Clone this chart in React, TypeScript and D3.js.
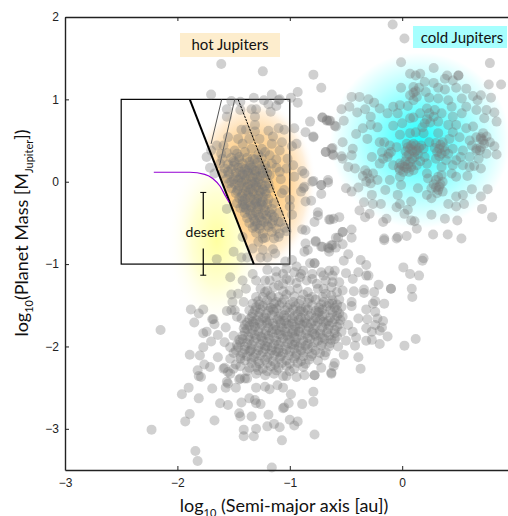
import React, { useEffect, useRef } from "react";
import * as d3 from "d3";

type Pt = [number, number];

// log10(a), log10(m)
const coldJupiters: Pt[] = [
  [-0.085,1.91],[0.02,1.74],[-0.01,1.45],[0.78,1.44],[0.28,1.38],[-0.79,1.3],[-0.72,1.14],[0.88,1.18],[0.77,1.18],[0.07,1.31],[0.12,1.29],[0.16,1.31],
  [0.4,1.29],[0.38,1.25],[0.5,1.29],[0.5,1.29],[0.45,1.23],[-0.01,1.14],[0.1,1.15],[0.2,1.21],[0.28,1.2],[0.32,1.14],[0.38,1.12],[0.48,1.14],[0.57,1.13],
  [0.21,1.09],[0.07,1.05],[0.13,1.03],[0.1,0.99],[0.12,1.1],[0.1,1.08],[0.32,1.01],[0.41,0.99],[0.53,1.01],[0.63,1.04],[0.7,1.05],[0.79,1.02],[0.67,0.99],
  [-0.45,1.03],[-0.38,1.03],[-0.3,1.0],[-0.25,0.96],[-0.47,0.91],[-0.54,0.88],[-0.4,0.84],[-0.33,0.88],[-0.28,0.79],[-0.2,0.89],[-0.13,0.83],[-0.08,0.91],
  [-0.02,0.93],[0.05,0.92],[-0.04,0.83],[0.07,0.77],[0.16,0.83],[0.22,0.89],[0.29,0.87],[0.35,0.83],[0.44,0.91],[0.45,0.79],[0.53,0.83],[0.57,0.91],[0.66,0.87],
  [0.75,0.87],[0.82,0.84],[0.73,0.77],[0.84,0.73],[-0.71,0.78],[-0.65,0.74],[-0.67,0.75],[-0.52,0.74],[-0.59,0.67],[-0.35,0.65],[-0.28,0.69],[-0.41,0.58],
  [-0.31,0.52],[-0.22,0.66],[-0.08,0.68],[0,0.71],[0.07,0.59],[0.28,0.79],[0.24,0.83],[0.32,0.73],[0.19,0.59],[0.32,0.59],[0.41,0.69],[0.48,0.69],[0.57,0.65],
  [0.63,0.67],[0.72,0.59],[0.75,0.55],[0.66,0.54],[0.51,0.54],[0.42,0.52],[-0.79,0.55],[-0.53,0.48],[-0.44,0.4],[-0.62,0.41],[-0.68,0.36],[-0.62,0.33],
  [-0.54,0.31],[-0.53,0.28],[-0.45,0.32],[-0.27,0.3],[-0.2,0.48],[-0.16,0.48],[-0.11,0.44],[-0.13,0.3],[-0.17,0.28],[-0.1,0.36],[-0.02,0.57],[0.04,0.46],
  [0.1,0.46],[0.07,0.4],[0.13,0.38],[0.19,0.4],[0.11,0.3],[0.2,0.3],[0.33,0.4],[0.35,0.34],[0.36,0.48],[0.24,0.48],[0.45,0.4],[0.54,0.38],[0.6,0.5],[0.66,0.38],
  [0.7,0.54],[0.73,0.46],[0.82,0.43],[0.84,0.33],[0.75,0.34],[0.69,0.38],[0.48,0.26],[0.39,0.26],[0.3,0.28],[0.22,0.22],[0.07,0.24],[0,0.2],[0.04,0.16],[0.13,0.2],
  [-0.02,0.14],[0.35,0.18],[0.45,0.2],[0.54,0.2],[0.64,0.19],[0.7,0.16],[0.6,0.18],[-0.48,0.18],[-0.42,0.16],[-0.33,0.14],[-0.31,0.1],[-0.26,0.1],[-0.22,0.02],
  [-0.32,0],[-0.29,0.04],[-0.11,0.02],[-0.15,-0.1],[-0.01,-0.04],[-0.02,0.06],[0.14,-0.08],[0.23,0.04],[0.32,0.06],[0.32,-0.1],[0.36,0],[0.48,0.06],[0.62,-0.09],
  [0.76,-0.09],[0.7,-0.18],[0.54,-0.16],[0.48,-0.18],[0.41,-0.27],[0.55,-0.27],[0.48,-0.3],[0.26,-0.2],[0.26,-0.4],[0.38,-0.45],[0.49,-0.47],[0.71,-0.33],[0.8,-0.43],
  [0.22,-0.16],[-0.04,-0.16],[-0.02,-0.27],[-0.05,-0.31],[0.08,-0.24],[0.05,-0.34],[0.02,-0.39],[0.08,-0.47],[0.11,-0.48],[0.13,-0.57],[0.05,0.42],[0.09,0.38],
  [0.12,0.44],[0.06,0.33],[0.14,0.33],[0.17,0.44],[0.03,0.37],[-0.02,0.22],[0.03,0.25],[0.08,0.18],[0.01,0.12],[0.06,0.12],[0.34,0.45],[0.38,0.37],[0.31,0.36],[0.3,0.47],
  [0.3,0.02],[0.34,-0.03],[0.3,-0.07],[0.36,-0.12],[0.31,-0.14],[0.22,0.76],[0.25,0.72],[0.2,0.71],[-0.12,0.34],[-0.18,0.36],[0.62,0.44],[0.66,0.4],[0.7,0.42],[0.72,0.5],[0.7,0.52],
  [0.275,-0.64],[0.405,-0.64],[0.527,-0.69],[0.04,-0.66],[-0.05,-0.69],[-0.04,-0.67],[-0.16,-0.71],
  [0.08,0.44],[0.11,0.36],[0.04,0.31],[0.15,0.41],[0.09,0.28],[0.16,0.25],[0.02,0.18],[0.05,0.21],[-0.03,0.17],[0.1,0.14],[0.33,0.31],[0.37,0.42],[0.41,0.34],[0.29,0.41],
  [0.33,-0.06],[0.28,-0.03],[0.35,0.08],[0.1,0.78],[0.18,0.66],[0.6,0.3],[0.68,0.28],[0.78,0.48],[-0.28,-0.02],[-0.35,0.07],[-0.2,0.22],[-0.08,0.2],[0.22,0.1],[0.44,0.1],
  [0.52,0.3],[0.58,0.07],[0.15,1.14],[0.24,1.02],[0.45,0.6],[0.12,0.6],[-0.05,0.42],[0.26,-0.08],
];

const hotFringe: Pt[] = [
  [-1.61,1.43],[-1.24,1.34],[-1.7,1.06],[-1.52,0.98],[-1.56,0.88],[-1.56,0.79],[-1.44,0.97],[-1.44,0.87],[-1.32,1.02],[-1.34,0.88],[-1.3,0.88],[-1.31,0.79],[-1.23,0.99],
  [-1.19,0.94],[-1.16,1.06],[-1.09,1.0],[-1.1,0.99],[-1.12,0.92],[-1.17,0.85],[-0.99,1.02],[-0.93,1.09],[-0.93,0.96],[-0.82,0.73],[-0.71,0.78],[-0.67,0.74],[-0.64,0.74],[-0.6,0.68],
  [-0.86,0.6],[-0.79,0.54],[-0.96,0.65],[-1.05,0.63],[-1.1,0.65],[-0.68,0.36],[-0.63,0.4],[-0.61,0.32],[-0.94,0.46],[-0.98,0.43],[-1.07,0.48],[-1.19,0.62],[-1.31,0.69],[-1.31,0.61],
  [-1.39,0.63],[-1.43,0.63],[-1.46,0.52],[-1.55,0.54],[-1.36,0.52],[-1.27,0.52],[-1.15,0.55],[-1.42,0.46],[-1.49,0.38],[-1.59,0.44],[-1.65,0.44],[-1.7,0.38],[-1.74,0.3],
  [-1.71,0.17],[-1.67,0.1],[-1.61,0.34],[-1.34,0.4],[-1.25,0.4],[-1.16,0.46],[-1.09,0.38],[-1.18,0.32],[-1.12,0.27],[-1.02,0.28],[-0.97,0.2],[-1.03,0.16],[-1.09,0.12],
  [-0.96,0.06],[-0.89,0.13],[-0.8,0],[-0.72,-0.04],[-0.66,0.02],[-0.87,-0.06],[-0.87,0.1],[-0.79,0.01],[-0.9,-0.12],[-0.88,-0.08],[-0.72,-0.15],[-0.81,-0.23],[-0.86,-0.24],
  [-0.75,-0.37],[-0.75,-0.41],[-0.64,-0.46],[-0.78,-0.49],[-0.98,-0.4],[-0.89,-0.58],[-0.86,-0.59],[-1.1,-0.67],[-0.86,-0.75],[-0.77,-0.72],[-0.84,-0.83],[-0.87,-0.85],
  [-0.72,-0.79],[-0.65,-0.81],[-0.63,-0.77],[-1.15,-0.82],[-1.13,-0.87],[-1.24,-0.83],[-1.28,-0.73],[-1.24,-0.69],[-1.33,-0.81],[-1.26,-0.92],[-1.2,-0.92],[-0.98,-0.95],[-1.04,-0.97],
  [-1.5,-0.85],[-1.65,-0.94],[-1.43,-0.92],[-1.38,-0.92],[-1.56,-0.33],[-1.42,-0.67],[-1.08,-0.49],[-1.05,-0.1],[-1.0,-0.22],[-1.03,-0.6],[-1.0,-0.3],
];

const hotCore: Pt[] = [
  [-1.56,0.35],[-1.47,0.34],[-1.4,0.36],[-1.28,0.33],[-1.22,0.36],[-1.6,0.28],[-1.52,0.29],[-1.45,0.27],[-1.38,0.29],[-1.31,0.27],[-1.25,0.29],[-1.62,0.22],[-1.55,0.21],[-1.49,0.23],
  [-1.42,0.22],[-1.35,0.2],[-1.29,0.23],[-1.22,0.21],[-1.16,0.22],[-1.58,0.16],[-1.52,0.15],[-1.46,0.17],[-1.4,0.15],[-1.34,0.17],[-1.27,0.15],[-1.21,0.16],[-1.12,0.17],[-1.6,0.1],
  [-1.54,0.09],[-1.48,0.11],[-1.42,0.09],[-1.37,0.11],[-1.31,0.09],[-1.24,0.1],[-1.18,0.08],[-1.56,0.04],[-1.5,0.03],[-1.44,0.05],[-1.39,0.03],[-1.33,0.05],[-1.27,0.03],[-1.21,0.04],
  [-1.08,0.03],[-1.54,-0.02],[-1.49,-0.03],[-1.43,-0.01],[-1.37,-0.03],[-1.31,-0.01],[-1.25,-0.03],[-1.19,-0.02],[-1.52,-0.08],[-1.46,-0.09],[-1.41,-0.07],[-1.35,-0.09],[-1.3,-0.07],
  [-1.24,-0.09],[-1.18,-0.08],[-1.48,-0.14],[-1.42,-0.15],[-1.37,-0.13],[-1.32,-0.15],[-1.26,-0.13],[-1.21,-0.15],[-1.07,-0.14],[-1.45,-0.2],[-1.4,-0.21],[-1.35,-0.19],[-1.29,-0.21],
  [-1.24,-0.19],[-1.19,-0.21],[-1.47,-0.26],[-1.42,-0.27],[-1.37,-0.25],[-1.31,-0.27],[-1.26,-0.25],[-1.2,-0.27],[-1.14,-0.26],[-1.44,-0.32],[-1.39,-0.33],[-1.34,-0.31],[-1.28,-0.33],
  [-1.23,-0.31],[-1.16,-0.33],[-1.4,-0.38],[-1.35,-0.39],[-1.3,-0.37],[-1.24,-0.39],[-1.18,-0.37],[-1.1,-0.38],[-1.38,-0.44],[-1.32,-0.45],[-1.27,-0.43],[-1.2,-0.45],[-1.14,-0.43],
  [-1.36,-0.5],[-1.29,-0.51],[-1.23,-0.49],[-1.16,-0.51],[-1.1,-0.49],[-1.33,-0.56],[-1.27,-0.57],[-1.19,-0.55],[-1.12,-0.57],[-1.04,-0.56],[-1.3,-0.62],[-1.24,-0.63],[-1.16,-0.61],
  [-1.09,-0.63],[-1.22,-0.68],[-1.14,-0.69],[-1.44,0.12],[-1.34,0.0],[-1.28,-0.17],[-1.36,-0.35],[-1.25,-0.28],[-1.3,-0.05],[-1.46,0.02],[-1.38,0.13],[-1.32,-0.22],[-1.4,-0.28],
  [-1.5,0.19],[-1.43,0.17],[-1.36,0.24],[-1.3,0.13],[-1.26,0.07],[-1.48,0.06],[-1.41,0.01],[-1.35,0.06],[-1.28,-0.01],[-1.22,-0.05],[-1.45,-0.05],[-1.39,-0.11],[-1.33,-0.12],
  [-1.27,-0.11],[-1.22,-0.12],[-1.43,-0.18],[-1.37,-0.17],[-1.3,-0.25],[-1.24,-0.24],[-1.41,-0.31],[-1.35,-0.29],[-1.29,-0.3],[-1.22,-0.35],[-1.33,-0.41],[-1.28,-0.4],[-1.21,-0.41],
  [-1.16,-0.4],[-1.31,-0.48],[-1.25,-0.47],[-1.2,-0.53],[-1.26,-0.53],[-1.31,-0.54],[-1.15,-0.47],[-1.45,0.3],[-1.33,0.28],[-1.27,0.2],[-1.5,0.25],[-1.4,0.08],[-1.32,0.14],
  [-1.55,0.12],[-1.52,0.0],[-1.47,-0.11],[-1.42,-0.23],[-1.24,0.14],[-1.2,0.1],[-1.36,0.17],[-1.38,-0.06],[-1.33,-0.03],[-1.29,0.06],
];

const lowMassFringe: Pt[] = [
  [-1.88,-1.55],[-1.77,-1.55],[-1.81,-1.6],[-1.85,-1.71],[-2.15,-1.8],[-1.69,-1.67],[-1.67,-1.73],[-1.57,-1.77],[-1.77,-1.84],[-1.74,-1.82],[-1.64,-1.86],[-1.7,-1.94],[-1.77,-2.01],
  [-1.89,-2.1],[-1.8,-2.11],[-1.64,-2.13],[-1.76,-2.22],[-1.71,-2.25],[-1.82,-2.29],[-1.81,-2.36],[-1.79,-2.37],[-1.69,-2.51],[-1.9,-2.5],[-1.96,-2.58],[-1.81,-2.63],[-1.62,-2.69],
  [-1.55,-2.71],[-1.89,-2.82],[-1.93,-2.91],[-1.67,-2.9],[-2.23,-3.01],[-1.84,-3.27],[-1.82,-3.39],[-1.16,-3.47],[-1.43,-2.68],[-1.36,-2.63],[-1.31,-2.65],[-1.3,-2.69],[-1.26,-2.7],
  [-1.45,-2.81],[-1.44,-2.85],[-1.34,-2.85],[-1.41,-3.01],[-1.41,-3.09],[-1.32,-3.09],[-1.3,-3.0],[-1.19,-2.83],[-1.2,-2.97],[-1.14,-2.94],[-1.09,-2.98],[-1.07,-3.14],[-1.06,-2.75],
  [-1.05,-2.74],[-1.01,-2.69],[-0.99,-2.58],[-0.89,-2.7],[-0.79,-2.55],[-0.79,-2.67],[-1.0,-2.89],[-0.93,-2.91],[-0.96,-2.96],[-0.78,-3.07],[-1.57,-2.5],[-1.55,-2.45],[-1.48,-2.5],
  [-1.45,-2.4],[-1.38,-2.39],[-1.3,-2.5],[-1.22,-2.49],[-1.18,-2.52],[-1.11,-2.47],[-1.06,-2.5],[-0.94,-2.37],[-0.87,-2.35],[-0.78,-2.35],[-0.63,-2.33],[-1.03,-2.36],[-1.53,-2.33],[-1.58,-2.26],
  [-1.53,-1.16],[-1.42,-1.2],[-1.33,-1.12],[-1.3,-1.2],[-1.22,-1.2],[-1.12,-1.16],[-1.1,-1.26],[-1.39,-1.3],[-1.46,-1.36],[-1.52,-1.37],[-1.51,-1.46],[-1.41,-1.46],[-1.3,-1.4],[-1.22,-1.34],
  [-1.16,-1.4],[-1.0,-1.32],[-1.06,-1.24],[-0.91,-1.16],[-0.94,-1.03],[-0.82,-0.99],[-0.78,-0.99],[-1.52,-1.56],[-1.56,-1.57],[-1.49,-1.56],[-1.47,-1.64],[-1.68,-1.67],[-1.43,-1.66],[-1.4,-1.74],
  [-1.5,-1.87],[-1.58,-1.95],[-1.53,-2.01],[-1.46,-2.01],[-1.53,-2.15],[-1.44,-2.15],[-1.35,-2.05],[-1.59,-2.27],[-1.55,-2.31],[-1.44,-2.39],[-1.56,-2.43],[-1.4,-2.39],
];

const midScatter: Pt[] = [
  [-0.45,-0.58],[-0.53,-0.61],[-0.45,-0.68],[-0.57,-0.68],[-0.53,-0.76],[-0.62,-0.77],[-0.66,-0.8],[-0.65,-0.85],[-0.71,-0.79],[-0.59,-0.8],[-0.77,-0.73],[-0.48,-0.88],[-0.52,-0.96],[-0.37,-0.95],
  [-0.32,-1.01],[-0.39,-1.1],[-0.32,-1.14],[-0.3,-1.14],[-0.5,-1.11],[-0.44,-1.18],[-0.78,-0.99],[0.19,-0.93],[0.18,-0.96],[0.01,-1.04],[0.07,-1.12],[0.15,-1.14],[-0.21,-1.25],[-0.1,-1.3],[-0.1,-1.3],
  [0.085,-1.3],[0.09,-1.4],[-0.25,-1.34],[-0.34,-1.31],[-0.34,-1.35],[-0.43,-1.33],[-0.24,-1.45],[-0.16,-1.48],[-0.26,-1.48],[-0.32,-1.55],[-0.24,-1.58],[-0.22,-1.66],[-0.17,-1.69],[-0.18,-1.77],
  [-0.31,-1.67],[-0.32,-1.78],[-0.27,-1.82],[-0.24,-1.74],[-0.2,-1.81],[-0.13,-1.88],[-0.27,-1.92],[-0.32,-1.93],[-0.2,-1.97],[0.12,-1.91],[0.02,-1.99],[-0.42,-1.99],[-0.41,-1.89],[-0.5,-1.93],
  [-0.57,-2.0],[-0.6,-1.91],[-0.52,-2.1],[-0.39,-2.13],[-0.37,-2.27],[-0.6,-2.2],[-0.61,-2.24],[-0.63,-2.32],[-0.72,-2.26],[-0.78,-2.35],[-0.68,-2.07],[-0.69,-2.11],[-0.45,-1.51],[-0.53,-1.64],
  [-0.39,-1.66],[-0.44,-1.82],[-0.48,-1.74],[-0.62,-1.14],[-0.65,-1.08],[-0.6,-1.08],[-0.7,-1.14],[-0.63,-1.28],[-0.53,-1.32],[-0.45,-1.46],[-0.62,-1.48],[-0.56,-1.22],[-0.5,-0.08],[-0.45,-0.12],
  [-0.39,-0.07],[-0.66,-0.01],[-0.72,-0.04],[-0.27,-0.16],[-0.34,-0.25],[-0.26,-0.27],[-0.19,-0.27],[-0.38,-0.35],[-0.29,-0.39],[-0.33,-0.43],[-0.14,-0.45],[-0.17,-0.49],[-0.56,-0.43],[-0.65,-0.46],
  [-0.61,-0.45],[-0.53,-0.61],[-0.59,-0.68],[-0.16,-0.69],
];

const lowMassCore: Pt[] = [
  [-1.2,-1.07],[-1.12,-1.09],[-1.03,-1.06],[-0.96,-1.1],[-0.88,-1.08],[-0.8,-1.12],[-0.72,-1.1],[-1.18,-1.2],[-1.03,-1.18],[-0.94,-1.23],[-0.85,-1.2],[-0.76,-1.24],[-0.68,-1.2],
  [-1.26,-1.3],[-1.14,-1.28],[-1.06,-1.33],[-0.93,-1.3],[-0.84,-1.34],[-0.75,-1.3],[-0.68,-1.36],[-0.58,-1.34],[-1.28,-1.45],[-1.2,-1.44],[-1.12,-1.46],[-1.05,-1.43],[-0.97,-1.46],[-0.9,-1.44],
  [-0.84,-1.47],[-0.77,-1.43],[-0.7,-1.46],[-0.62,-1.44],[-0.56,-1.43],[-1.3,-1.52],[-1.24,-1.51],[-1.17,-1.53],[-1.09,-1.5],[-1.02,-1.53],[-0.95,-1.51],[-0.86,-1.53],[-0.8,-1.5],[-0.74,-1.53],
  [-0.67,-1.51],[-0.6,-1.53],[-0.54,-1.52],[-1.33,-1.6],[-1.27,-1.59],[-1.21,-1.61],[-1.14,-1.58],[-1.08,-1.61],[-1.0,-1.59],[-0.93,-1.61],[-0.88,-1.58],[-0.81,-1.61],[-0.75,-1.59],[-0.69,-1.61],
  [-0.62,-1.59],[-0.56,-1.6],[-1.36,-1.67],[-1.3,-1.68],[-1.24,-1.66],[-1.18,-1.69],[-1.11,-1.67],[-1.05,-1.69],[-0.98,-1.66],[-0.92,-1.68],[-0.86,-1.66],[-0.79,-1.69],[-0.73,-1.67],[-0.66,-1.69],
  [-0.6,-1.67],[-0.55,-1.68],[-1.36,-1.75],[-1.31,-1.76],[-1.25,-1.74],[-1.19,-1.77],[-1.13,-1.75],[-1.07,-1.77],[-1.01,-1.74],[-0.95,-1.76],[-0.89,-1.74],[-0.83,-1.77],[-0.77,-1.75],[-0.71,-1.77],
  [-0.65,-1.75],[-0.58,-1.76],[-1.4,-1.82],[-1.34,-1.84],[-1.28,-1.82],[-1.22,-1.85],[-1.16,-1.83],[-1.1,-1.85],[-1.04,-1.82],[-0.98,-1.84],[-0.92,-1.82],[-0.86,-1.85],[-0.8,-1.83],[-0.73,-1.85],
  [-0.67,-1.83],[-0.6,-1.84],[-0.54,-1.82],[-1.42,-1.91],[-1.36,-1.92],[-1.3,-1.9],[-1.24,-1.93],[-1.18,-1.91],[-1.12,-1.93],[-1.06,-1.9],[-1.0,-1.92],[-0.94,-1.9],[-0.88,-1.93],[-0.82,-1.91],
  [-0.75,-1.93],[-0.69,-1.91],[-0.63,-1.92],[-1.47,-1.98],[-1.4,-2.0],[-1.34,-1.98],[-1.28,-2.01],[-1.22,-1.99],[-1.16,-2.01],[-1.1,-1.98],[-1.04,-2.0],[-0.98,-1.98],[-0.92,-2.01],[-0.86,-1.99],
  [-0.8,-2.01],[-0.72,-1.99],[-0.65,-2.0],[-1.5,-2.08],[-1.42,-2.08],[-1.36,-2.06],[-1.3,-2.09],[-1.24,-2.07],[-1.18,-2.09],[-1.12,-2.06],[-1.06,-2.08],[-1.0,-2.06],[-0.94,-2.09],[-0.88,-2.07],[-0.8,-2.09],
  [-0.73,-2.08],[-1.4,-2.17],[-1.34,-2.15],[-1.28,-2.18],[-1.22,-2.16],[-1.15,-2.18],[-1.09,-2.15],[-1.03,-2.17],[-0.96,-2.15],[-0.9,-2.18],[-0.83,-2.16],[-0.75,-2.17],[-1.36,-2.26],[-1.3,-2.25],
  [-1.24,-2.27],[-1.17,-2.24],[-1.1,-2.26],[-1.03,-2.24],[-0.96,-2.27],[-0.88,-2.25],[-1.3,-2.33],[-1.22,-2.35],[-1.14,-2.33],[-1.06,-2.36],[-1.15,-1.55],[-1.05,-1.62],[-0.98,-1.72],[-1.12,-1.8],
  [-1.26,-1.88],[-1.02,-1.88],[-0.85,-1.72],[-0.9,-1.55],[-1.2,-1.95],[-1.1,-2.03],[-0.95,-1.95],[-1.32,-1.72],[-0.78,-1.85],[-0.7,-1.7],[-0.74,-1.58],[-1.08,-1.72],[-1.2,-1.72],[-0.95,-1.82],
  [-1.24,-1.4],[-1.17,-1.38],[-1.1,-1.4],[-1.03,-1.37],[-0.96,-1.39],[-0.88,-1.37],[-0.8,-1.4],[-0.71,-1.4],[-0.63,-1.38],[-1.27,-1.49],[-1.2,-1.5],[-1.14,-1.48],[-1.07,-1.47],[-1.0,-1.49],
  [-0.92,-1.48],[-0.83,-1.42],[-0.72,-1.49],[-0.65,-1.48],[-0.58,-1.49],[-1.31,-1.56],[-1.26,-1.55],[-1.19,-1.57],[-1.12,-1.54],[-1.04,-1.56],[-0.97,-1.55],[-0.91,-1.57],[-0.84,-1.55],[-0.77,-1.57],
  [-0.71,-1.55],[-0.64,-1.56],[-0.58,-1.56],[-1.34,-1.64],[-1.28,-1.63],[-1.22,-1.65],[-1.16,-1.62],[-1.1,-1.64],[-1.03,-1.65],[-0.96,-1.63],[-0.9,-1.65],[-0.83,-1.63],[-0.77,-1.65],[-0.71,-1.63],
  [-0.64,-1.65],[-0.58,-1.63],[-1.38,-1.71],[-1.33,-1.7],[-1.27,-1.71],[-1.21,-1.69],[-1.15,-1.72],[-1.09,-1.69],[-1.03,-1.72],[-0.97,-1.7],[-0.91,-1.72],[-0.87,-1.7],[-0.81,-1.72],[-0.75,-1.7],
  [-0.68,-1.72],[-0.62,-1.71],[-0.56,-1.73],[-1.38,-1.79],[-1.33,-1.8],[-1.27,-1.78],[-1.21,-1.81],[-1.15,-1.79],[-1.09,-1.81],[-1.03,-1.78],[-0.97,-1.8],[-0.91,-1.78],[-0.85,-1.81],[-0.79,-1.79],
  [-0.73,-1.81],[-0.66,-1.79],[-0.6,-1.8],[-1.42,-1.87],[-1.37,-1.88],[-1.31,-1.86],[-1.25,-1.89],[-1.19,-1.87],[-1.14,-1.89],[-1.08,-1.86],[-1.02,-1.86],[-0.96,-1.88],[-0.9,-1.86],[-0.84,-1.89],
  [-0.77,-1.87],[-0.71,-1.89],[-0.65,-1.87],[-0.58,-1.88],[-1.44,-1.95],[-1.38,-1.96],[-1.32,-1.94],[-1.26,-1.97],[-1.2,-2.0],[-1.14,-1.97],[-1.08,-1.95],[-1.02,-1.96],[-0.96,-1.98],[-0.9,-1.96],
  [-0.84,-1.97],[-0.78,-1.95],[-0.71,-1.96],[-0.64,-1.96],[-1.48,-2.05],[-1.4,-2.04],[-1.34,-2.03],[-1.28,-2.05],[-1.22,-2.03],[-1.16,-2.05],[-1.1,-2.07],[-1.03,-2.04],[-0.96,-2.03],[-0.9,-2.05],
  [-0.84,-2.03],[-0.77,-2.05],[-1.44,-2.12],[-1.38,-2.12],[-1.32,-2.13],[-1.26,-2.11],[-1.2,-2.13],[-1.14,-2.11],[-1.08,-2.12],[-1.01,-2.11],[-0.95,-2.12],[-0.88,-2.12],[-0.81,-2.12],[-1.34,-2.2],
  [-1.27,-2.21],[-1.2,-2.2],[-1.13,-2.22],[-1.07,-2.2],[-1.0,-2.21],[-0.93,-2.2],[-0.86,-2.21],[-1.28,-2.29],[-1.2,-2.3],[-1.12,-2.29],[-1.0,-2.3],[-1.44,-2.24],[-1.38,-2.3],[-1.48,-2.22],[-1.5,-2.27],
  [-1.06,-1.12],[-1.0,-1.2],[-0.9,-1.12],[-0.8,-1.18],[-0.7,-1.3],[-0.62,-1.22],[-1.2,-1.32],[-1.33,-1.48],[-1.36,-1.56],[-1.41,-1.78],[-1.45,-1.92],
];

const planetGroups = [coldJupiters, hotFringe, hotCore, lowMassFringe, midScatter, lowMassCore];

const xTicks = [-3, -2, -1, 0];
const yTicks = [-3, -2, -1, 0, 1, 2];

// the lines drawn over the scatter, in data units
const boxX = [-2.5, -1];
const boxY = [1, -1];
const rocheLine: Pt[] = [[-1.89, 1], [-1.32, -1]];
const thinLineA: Pt[] = [[-1.606, 1], [-1.7, 0.46]];
const thinLineB: Pt[] = [[-1.49, 1], [-1.624, 0.2]];
const dashedLine: Pt[] = [[-1.46, 1], [-1, -0.61]];
const purpleCurve: Pt[] = [[-2.21, 0.115], [-1.89, 0.115], [-1.757, 0.09], [-1.686, 0.04], [-1.62, -0.055], [-1.57, -0.18], [-1.54, -0.25]];
const desertBars: Pt[][] = [[[-1.77, -0.13], [-1.77, -0.455]], [[-1.77, -0.81], [-1.77, -1.135]]];

const W = 508;
const H = 516;
const x = d3.scaleLinear().domain([-3, 1]).range([65, 514.6]);
const y = d3.scaleLinear().domain([2, -3.5]).range([17, 470]);
const line = d3.line<Pt>().x((d) => x(d[0])).y((d) => y(d[1]));
const smooth = d3.line<Pt>().x((d) => x(d[0])).y((d) => y(d[1])).curve(d3.curveMonotoneX);

export default function App() {
  const axes = useRef<SVGGElement>(null);

  useEffect(() => {
    const g = d3.select(axes.current);
    g.selectAll("*").remove();
    const bottom = g.append("g").attr("transform", `translate(0,${y(-3.5)})`)
      .call(d3.axisBottom(x).tickValues(xTicks).tickSizeInner(-4).tickSizeOuter(0).tickPadding(8).tickFormat(d3.format("d")));
    const top = g.append("g").attr("transform", `translate(0,${y(2)})`)
      .call(d3.axisTop(x).tickValues(xTicks).tickSizeInner(-4).tickSizeOuter(0).tickFormat(() => ""));
    const left = g.append("g").attr("transform", `translate(${x(-3)},0)`)
      .call(d3.axisLeft(y).tickValues(yTicks).tickSizeInner(-4).tickSizeOuter(0).tickPadding(6).tickFormat(d3.format("d")));
    [bottom, top, left].forEach((a) => {
      a.selectAll("path").attr("stroke", "#222").attr("stroke-width", 1.4);
      a.selectAll("line").attr("stroke", "#222");
      a.selectAll("text").attr("fill", "#222").attr("font-size", 12).attr("font-family", "Liberation Sans, Arial, sans-serif");
    });
  }, []);

  const roche = (edge: number) => {
    // x of the thick line at a given y, for the clip shapes
    const [[x0, y0], [x1, y1]] = rocheLine;
    return x0 + ((edge - y0) * (x1 - x0)) / (y1 - y0);
  };

  const yellowClip: Pt[] = [
    [-3, purpleCurve[0][1]],
    ...purpleCurve,
    [roche(-1.8), -1.8],
    [-3, -1.8],
  ];
  const orangeClip: Pt[] = [
    [roche(1.2), 1.2],
    [0, 1.2],
    [0, -1.8],
    [roche(-1.8), -1.8],
  ];

  return (
    <svg width={W} height={H} style={{ position: "absolute", left: 0, top: 0 }}>
      <defs>
        <radialGradient id="cold">
          <stop offset="0%" stopColor="#20ffff" />
          <stop offset="35%" stopColor="#70ffff" />
          <stop offset="70%" stopColor="#c0ffff" />
          <stop offset="100%" stopColor="#ffffff" />
        </radialGradient>
        <radialGradient id="hot">
          <stop offset="0%" stopColor="#ffc468" />
          <stop offset="60%" stopColor="#ffd8a0" />
          <stop offset="85%" stopColor="#fff0dc" />
          <stop offset="100%" stopColor="#ffffff" stopOpacity={0} />
        </radialGradient>
        <radialGradient id="desertGlow">
          <stop offset="0%" stopColor="#ffffa0" />
          <stop offset="50%" stopColor="#ffffd4" />
          <stop offset="100%" stopColor="#ffffff" stopOpacity={0} />
        </radialGradient>
        <clipPath id="yellowClip"><path d={line(yellowClip) + "Z"} /></clipPath>
        <clipPath id="orangeClip"><path d={line(orangeClip) + "Z"} /></clipPath>
      </defs>

      <ellipse cx={x(0.16)} cy={y(0.5)} rx={90} ry={88} fill="url(#cold)" />
      <g clipPath="url(#yellowClip)">
        <ellipse cx={x(-1.65)} cy={y(-0.7)} rx={50} ry={92} fill="url(#desertGlow)" />
      </g>
      <g clipPath="url(#orangeClip)">
        <ellipse cx={x(-1.33)} cy={y(-0.05)} rx={64} ry={88} fill="url(#hot)" />
      </g>

      <rect x={180} y={33} width={100} height={24} fill="#fdedcd" />
      <text x={230} y={50} textAnchor="middle" fontFamily="Lato, sans-serif" fontSize={15} fill="#111">hot Jupiters</text>
      <rect x={413} y={26} width={94} height={22} fill="#a6fffe" />
      <text x={462} y={43} textAnchor="middle" fontFamily="Lato, sans-serif" fontSize={15} fill="#111">cold Jupiters</text>

      <rect x={x(boxX[0])} y={y(boxY[0])} width={x(boxX[1]) - x(boxX[0])} height={y(boxY[1]) - y(boxY[0])} fill="none" stroke="#000" strokeWidth={1.2} />
      <path d={line(thinLineA)!} fill="none" stroke="#555" strokeWidth={1} />
      <path d={line(thinLineB)!} fill="none" stroke="#555" strokeWidth={1} />

      <g>
        {planetGroups.flat().map((d, i) => (
          <circle key={i} cx={x(d[0])} cy={y(d[1])} r={5} fill="#777777" fillOpacity={0.35} />
        ))}
      </g>

      <path d={line(dashedLine)!} fill="none" stroke="#000" strokeWidth={1} strokeDasharray="2.5 1" />
      <path d={line(rocheLine)!} fill="none" stroke="#000" strokeWidth={2} />
      <path d={smooth(purpleCurve)!} fill="none" stroke="#9400d3" strokeWidth={1.2} />
      {desertBars.map((b, i) => (
        <g key={i}>
          <path d={line(b)!} fill="none" stroke="#000" strokeWidth={1.2} />
          <path d={`M${x(b[0][0]) - 3},${y(i === 0 ? b[0][1] : b[1][1])}h6`} fill="none" stroke="#000" strokeWidth={1} />
        </g>
      ))}
      <text x={205} y={237} textAnchor="middle" fontFamily="Lato, sans-serif" fontSize={14} fill="#111">desert</text>

      <g ref={axes} />

      <text x={284} y={512} textAnchor="middle" fontFamily="Lato, sans-serif" fontSize={18} fill="#111">
        log<tspan fontSize={11} dy={5}>10</tspan><tspan dy={-5}> (Semi-major axis [au])</tspan>
      </text>
      <text transform={`translate(28,233) rotate(-90)`} textAnchor="middle" fontFamily="Lato, sans-serif" fontSize={18} fill="#111">
        log<tspan fontSize={11} dy={5}>10</tspan><tspan dy={-5}>(Planet Mass [M</tspan><tspan fontSize={11} dy={5}>Jupiter</tspan><tspan dy={-5}>])</tspan>
      </text>
    </svg>
  );
}
